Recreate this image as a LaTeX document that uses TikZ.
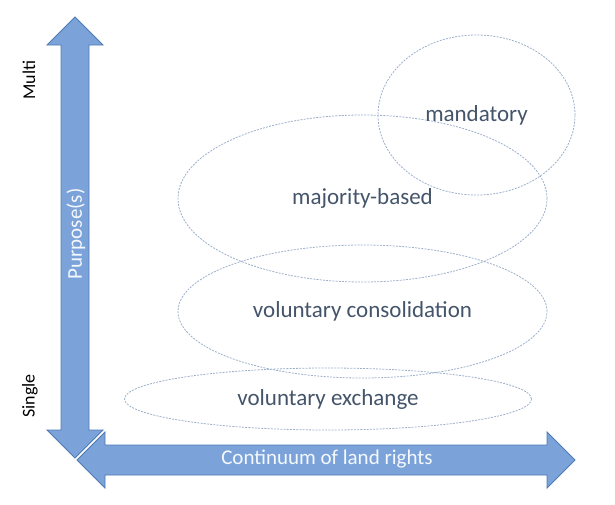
\documentclass[tikz,border=0pt]{standalone}
\usepackage{fontspec}
\setmainfont{Carlito}
\usepackage{tikz}
\usetikzlibrary{positioning,shapes.geometric}

\definecolor{axisfill}{HTML}{7BA3DA}
\definecolor{axisedge}{HTML}{4F7BB3}
\definecolor{bubbleline}{HTML}{9DAFCB}
\definecolor{bubbletext}{HTML}{44546A}

\begin{document}
\begin{tikzpicture}[
    x=1pt,
    y=-1pt,
    bubble/.style={
      ellipse,
      draw=bubbleline,
      dash pattern=on 2pt off 1.2pt,
      line width=0.8pt,
      inner sep=0pt,
      text=bubbletext,
      font=\fontsize{23}{27}\selectfont
    },
    axis/.style={
      fill=axisfill,
      draw=axisedge,
      line width=0.9pt,
      line join=miter
    },
    axistext/.style={
      text=white!92!axisfill,
      font=\fontsize{21}{25}\selectfont
    },
    endtext/.style={
      rotate=90,
      text=black,
      font=\fontsize{18}{21}\selectfont
    }
    ]
    \useasboundingbox (0,0) rectangle (615,504);

    % purpose axis
    \draw[axis] (75,17) -- (47,45) -- (61,45) -- (61,430) -- (47,430)
      -- (75,458) -- (103,430) -- (89,430) -- (89,45) -- (103,45) -- cycle;
    % land rights axis, on top
    \draw[axis,preaction={draw=white,line width=3pt}]
      (77,460) -- (105,432) -- (105,445) -- (547,445) -- (547,432)
      -- (575,460) -- (547,488) -- (547,475) -- (105,475) -- (105,488) -- cycle;

    \node[axistext,rotate=90] (purpose) at (76,234) {Purpose(s)};
    \node[axistext] (rights) at (327,459) {Continuum of land rights};
    \node[endtext] (multi) at (29,80) {Multi};
    \node[endtext] (single) at (30,396) {Single};

    \node[bubble,minimum width=407pt,minimum height=62pt] (exchange)
      at (328,399) {voluntary exchange};
    \node[bubble,minimum width=369pt,minimum height=133pt] (consolidation)
      at (362.5,311.5) {voluntary consolidation};
    \node[bubble,minimum width=369pt,minimum height=167pt] (majority)
      at (362.5,198.5) {majority-based};
    \node[bubble,minimum width=197pt,minimum height=160pt] (mandatory)
      at (476.5,115) {mandatory};

\end{tikzpicture}
\end{document}
